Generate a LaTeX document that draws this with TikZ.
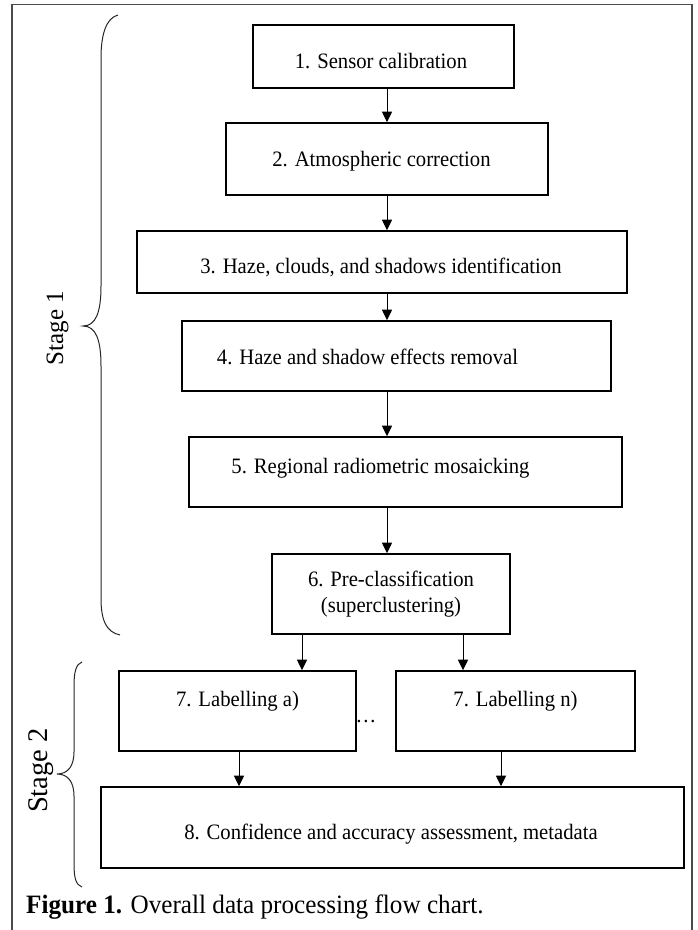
\documentclass[tikz,border=0pt]{standalone}
\usepackage{fontspec}
\setmainfont{Liberation Serif}
\newfontfamily\boxfont{Liberation Serif}[FakeStretch=0.94]
\newfontfamily\capfont{Liberation Serif}[FakeStretch=0.95]
\usetikzlibrary{arrows.meta}
% \tx{2*dx}{raise}{text}: place text off-centre in a box
\newcommand\tx[3]{\raisebox{#2}[0pt][0pt]{\makebox[0pt]{\hspace*{#1}#3}}}
\begin{document}
\begin{tikzpicture}[x=1pt,y=-1pt,
  stepbox/.style={draw=black, line width=1.6pt, inner sep=0pt, fill=white,
    font=\boxfont\fontsize{22}{26}\selectfont, align=center},
  arr/.style={line width=1pt, -{Triangle[length=10.5pt,width=10pt]}},
  brace/.style={line width=1pt, draw=black!85},
  frame/.style={line width=1.4pt, draw=black!70}]
\useasboundingbox (0,0) rectangle (697,930);
\fill[white] (0,0) rectangle (697,930);
% outer frame (open at the bottom)
\draw[frame] (12,940) -- (12,4.5) -- (692,4.5) -- (692,940);

% boxes
\node[stepbox, minimum width=261pt, minimum height=63pt] (b1) at (383.5,56.5) {\tx{-5pt}{-12.3pt}{1. Sensor calibration}};
\node[stepbox, minimum width=322pt, minimum height=72pt] (b2) at (387,159) {\tx{-11pt}{-7.3pt}{2. Atmospheric correction}};
\node[stepbox, minimum width=490pt, minimum height=62pt] (b3) at (382,262) {\tx{-2pt}{-11.3pt}{3. Haze, clouds, and shadows identification}};
\node[stepbox, minimum width=429pt, minimum height=70pt] (b4) at (396.5,356) {\tx{-58pt}{-8.8pt}{4. Haze and shadow effects removal}};
\node[stepbox, minimum width=433pt, minimum height=70pt] (b5) at (405.5,472) {\tx{-50pt}{-1.3pt}{5. Regional radiometric mosaicking}};
\node[stepbox, minimum width=238pt, minimum height=80pt] (b6) at (391,594) {6. Pre-classification\\(superclustering)};
\node[stepbox, minimum width=237pt, minimum height=80pt] (b7a) at (237.5,711) {\tx{0pt}{4.7pt}{7. Labelling a)}};
\node[stepbox, minimum width=239pt, minimum height=80pt] (b7n) at (515.5,711) {\tx{0pt}{4.7pt}{7. Labelling n)}};
\node[stepbox, minimum width=583pt, minimum height=81pt] (b8) at (392.5,827.5) {\tx{-3pt}{-12.3pt}{8. Confidence and accuracy assessment, metadata}};

% dots between the labelling boxes
\node[inner sep=0pt, font=\boxfont\fontsize{22}{26}\selectfont] (dots) at (366,722) {\ldots};

% connector x positions
\coordinate (spine) at (387,0);
\coordinate (xa) at (302,0);
\coordinate (xn) at (463,0);
\coordinate (xa8) at (239,0);
\coordinate (xn8) at (501,0);

% arrows
\draw[arr] (b1.south -| spine) -- (b2.north -| spine);
\draw[arr] (b2.south -| spine) -- (b3.north -| spine);
\draw[arr] (b3.south -| spine) -- (b4.north -| spine);
\draw[arr] (b4.south -| spine) -- (b5.north -| spine);
\draw[arr] (b5.south -| spine) -- (b6.north -| spine);
\draw[arr] (b6.south -| xa) -- (b7a.north -| xa);
\draw[arr] (b6.south -| xn) -- (b7n.north -| xn);
\draw[arr] (b7a.south -| xa8) -- (b8.north -| xa8);
\draw[arr] (b7n.south -| xn8) -- (b8.north -| xn8);

% braces
\draw[brace] (118,15) .. controls (106,18) and (101,35) .. (101,58)
  -- (101,286) .. controls (101,312) and (96,326) .. (83,326)
  .. controls (96,326) and (101,340) .. (101,366)
  -- (101,598) .. controls (101,620) and (106,632) .. (120,635);
\draw[brace] (82,662) .. controls (76,664) and (74,672) .. (74,686)
  -- (74,752) .. controls (74,766) and (68,774) .. (57,774)
  .. controls (68,774) and (74,782) .. (74,796)
  -- (74,864) .. controls (74,878) and (76,885) .. (82,887);

% stage labels
\node[rotate=90, anchor=base, inner sep=0pt, font=\fontsize{25}{30}\selectfont] (s1) at (63,328) {Stage 1};
\node[rotate=90, anchor=base, inner sep=0pt, font=\fontsize{28.5}{34}\selectfont] (s2) at (47,770.5) {Stage 2};

% caption
\node[anchor=west, inner sep=0pt, font=\capfont\fontsize{26.5}{30}\selectfont] (cap) at (26,907) {\textbf{Figure 1.} Overall data processing flow chart.};
\end{tikzpicture}
\end{document}
